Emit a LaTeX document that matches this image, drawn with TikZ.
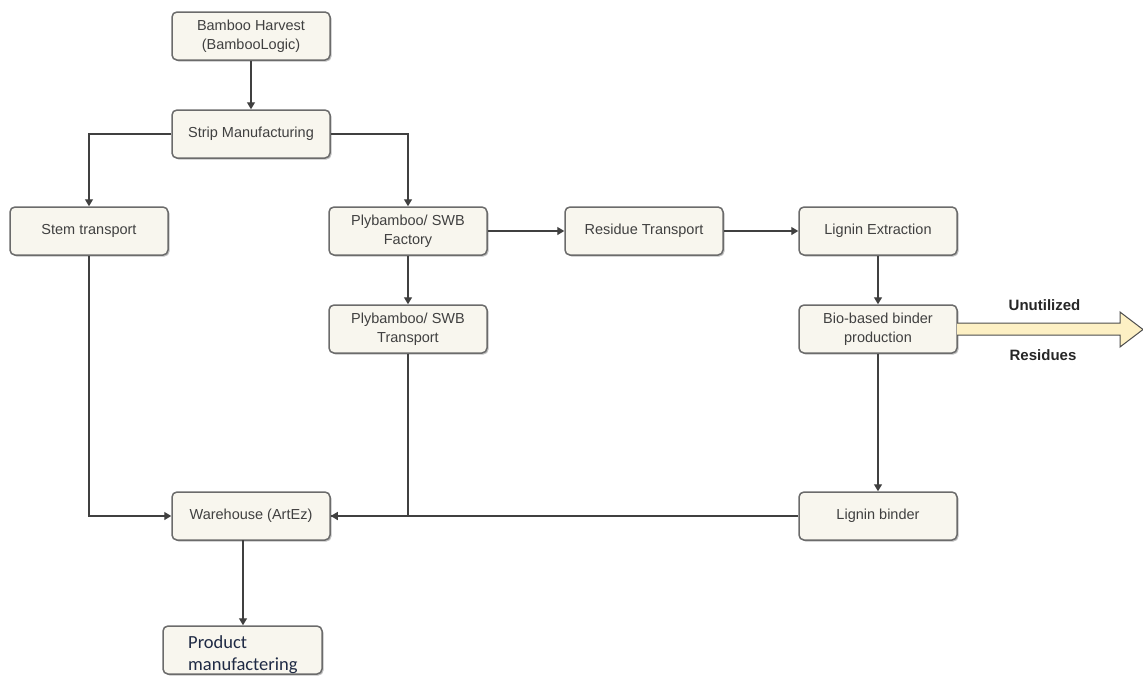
\documentclass[tikz,border=0pt]{standalone}
\usepackage{fontspec}
\setmainfont{Liberation Sans}
\newfontfamily\calib{Carlito}
\usetikzlibrary{arrows.meta,shadows}
\definecolor{boxfill}{HTML}{F8F6EE}
\definecolor{boxdraw}{HTML}{6B6B6B}
\definecolor{bigarrow}{HTML}{FDF0C4}
\definecolor{pmtext}{HTML}{1F2A44}
\begin{document}
\begin{tikzpicture}[x=1pt,y=-1pt,
  box/.style={draw=boxdraw,line width=1.5pt,fill=boxfill,rounded corners=5pt,
    minimum width=158pt,minimum height=48pt,align=center,inner sep=2pt,
    font=\fontsize{14.5}{19}\selectfont,text=black!75,
    drop shadow={shadow xshift=1.5pt,shadow yshift=-1.5pt,opacity=0.25,fill=black}},
  conn/.style={draw=black!75,line width=1.4pt},
  arr/.style={conn,-{Triangle[width=8pt,length=7pt]}}]
\useasboundingbox (0,0) rectangle (1143,675);
\node[box] (harv) at (251,36) {Bamboo Harvest\\(BambooLogic)};
\node[box] (strip) at (251,134) {Strip Manufacturing};
\node[box] (stem) at (89,231) {Stem transport};
\node[box] (fact) at (408,231) {Plybamboo/ SWB\\Factory};
\node[box] (rest) at (644,231) {Residue Transport};
\node[box] (lext) at (878,231) {Lignin Extraction};
\node[box] (plyt) at (408,329) {Plybamboo/ SWB\\Transport};
\node[box] (bio) at (878,329) {Bio-based binder\\production};
\node[box] (ware) at (251,516) {Warehouse (ArtEz)};
\node[box] (lbind) at (878,516) {Lignin binder};
\node[box,minimum width=159pt,minimum height=48pt] (prod) at (242.5,650) {};
\node[anchor=north west,align=left,inner sep=0pt,font=\calib\fontsize{18.5}{22}\selectfont,text=pmtext]
  (prodtxt) at (188,635) {Product\\manufactering};
% connectors
\draw[arr] (harv) -- (strip);
\draw[arr] (strip.west) -| (stem.north);
\draw[arr] (strip.east) -| (fact.north);
\draw[arr] (fact) -- (rest);
\draw[arr] (rest) -- (lext);
\draw[arr] (lext) -- (bio);
\draw[arr] (fact) -- (plyt);
\draw[arr] (bio) -- (lbind);
\draw[arr] (stem.south) |- (ware.west);
\draw[arr] (plyt.south) |- (ware.east);
\draw[conn] (lbind.west) -- (ware.east);
\coordinate (wtop) at (243,540);
\draw[arr] (wtop) -- (prod.north -| wtop);
% big arrow
\coordinate (ba) at (957,323);
\draw[draw=black!70,line width=1pt,fill=bigarrow,line join=miter]
  (ba) -- (1120,323) -- (1120,312) -- (1143,329.5) -- (1120,347) -- (1120,335) -- (957,335);
\node[font=\bfseries\fontsize{15}{17}\selectfont,text=black!85] (unu) at (1044.5,305) {Unutilized};
\node[font=\bfseries\fontsize{15}{17}\selectfont,text=black!85] (resi) at (1043,355) {Residues};
\end{tikzpicture}
\end{document}
